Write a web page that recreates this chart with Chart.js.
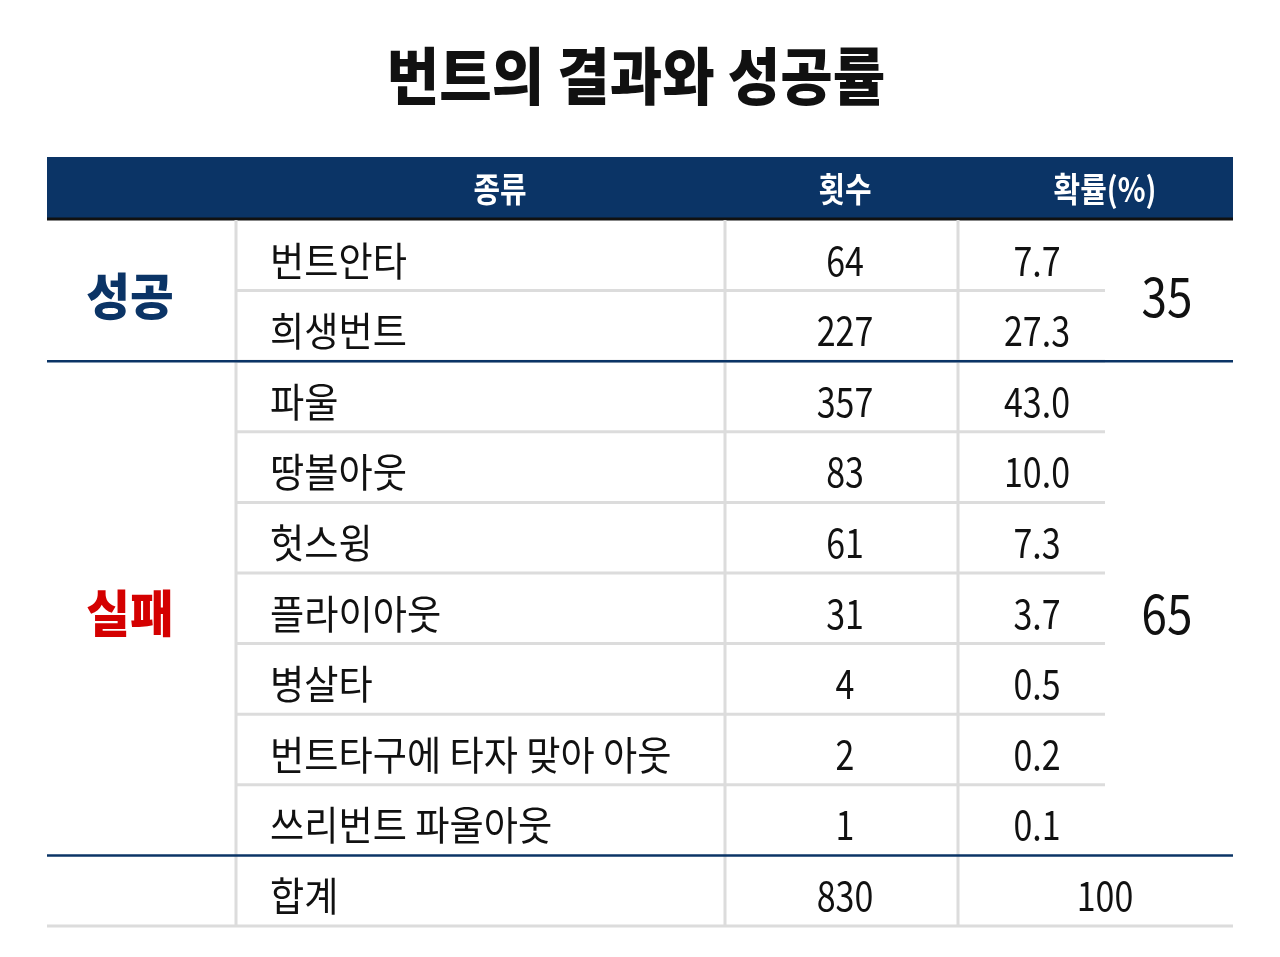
<!DOCTYPE html>
<html><head><meta charset="utf-8">
<script src="https://cdn.jsdelivr.net/npm/chart.js@4"></script>
<style>html,body{margin:0;background:#fff}#wrap{width:1280px;height:957px}</style>
</head><body><div id="wrap"><canvas id="myChart"></canvas></div>
<script>
// table data
const title = '번트의 결과와 성공률';
const headers = ['종류', '횟수', '확률(%)'];
const kinds = ['번트안타', '희생번트', '파울', '땅볼아웃', '헛스윙', '플라이아웃', '병살타', '번트타구에 타자 맞아 아웃', '쓰리번트 파울아웃'];
const counts = ['64', '227', '357', '83', '61', '31', '4', '2', '1'];
const rates = ['7.7', '27.3', '43.0', '10.0', '7.3', '3.7', '0.5', '0.2', '0.1'];
const groupNames = ['성공', '실패'];
const groupSizes = [2, 7];
const groupRates = ['35', '65'];
const totalRow = ['합계', '830', '100'];

const NAVY = '#0b3466', GRID = '#dcdcdc', FONT = '"Noto Sans CJK KR", sans-serif';

const tablePlugin = {
  id: 'table',
  afterDraw(chart) {
    const c = chart.ctx, X = v => chart.scales.x.getPixelForValue(v), Y = v => chart.scales.y.getPixelForValue(v);
    const txt = (s, x, y, size, color, weight, align, sx) => {
      sx = sx || 0.85;
      c.save(); c.font = `${weight||400} ${size}px ${FONT}`; c.fillStyle = color;
      c.textAlign = 'left'; c.textBaseline = 'middle';
      const w = c.measureText(s).width * sx;
      const x0 = align === 'left' ? x : x - w / 2;
      c.translate(x0, y + size * 0.1); c.scale(sx, 1); c.fillText(s, 0, 0); c.restore();
    };
    const line = (x1, y1, x2, y2, col, w) => { c.save(); c.strokeStyle = col; c.lineWidth = w; c.beginPath(); c.moveTo(X(x1), Y(y1)); c.lineTo(X(x2), Y(y2)); c.stroke(); c.restore(); };
    // title
    txt(title, X(636), Y(70), 62, '#111', 900, null, 0.92);
    // header
    c.fillStyle = NAVY; c.fillRect(X(47), Y(157), X(1233) - X(47), Y(218) - Y(157));
    line(47, 219, 1233, 219, '#111', 3);
    txt(headers[0], X(500), Y(186), 34, '#fff', 700);
    txt(headers[1], X(845), Y(186), 34, '#fff', 700);
    txt(headers[2], X(1105), Y(186), 34, '#fff', 700);
    const top = 220, rh = 70.6;
    const rowY = i => top + rh * i;
    // rows
    kinds.forEach((k, i) => {
      const cy = rowY(i) + rh / 2 + 1;
      txt(k, X(270), Y(cy), 40, '#111', 400, 'left', 0.93);
      txt(counts[i], X(845), Y(cy), 40, '#111');
      txt(rates[i], X(1037), Y(cy), 40, '#111');
      if (i > 0) line(236, rowY(i), 1105, rowY(i), GRID, 3);
    });
    const nr = kinds.length;
    // total
    const ty = rowY(nr) + rh / 2 + 1;
    txt(totalRow[0], X(270), Y(ty), 40, '#111', 400, 'left', 0.93);
    txt(totalRow[1], X(845), Y(ty), 40, '#111');
    txt(totalRow[2], X(1105), Y(ty), 40, '#111');
    line(47, rowY(nr + 1), 1233, rowY(nr + 1), GRID, 3);
    // vertical dividers
    [236, 725, 958].forEach(x => line(x, top, x, rowY(nr + 1), GRID, 3));
    // groups
    let start = 0;
    groupSizes.forEach((n, g) => {
      const mid = (rowY(start) + rowY(start + n)) / 2;
      txt(groupNames[g], X(130), Y(mid), 50, g === 0 ? NAVY : '#d40000', 900, null, 0.95);
      txt(groupRates[g], X(1167), Y(mid), 54, '#111');
      start += n;
      line(47, rowY(start), 1233, rowY(start), NAVY, 2.5);
    });
  }
};

new Chart(document.getElementById('myChart').getContext('2d'), {
  type: 'scatter',
  data: { datasets: [{ data: [] }] },
  options: {
    responsive: true, maintainAspectRatio: false, animation: false,
    layout: { padding: 0 },
    plugins: { legend: { display: false }, tooltip: { enabled: false } },
    scales: {
      x: { type: 'linear', min: 0, max: 1280, display: false },
      y: { type: 'linear', min: 0, max: 957, reverse: true, display: false }
    }
  },
  plugins: [tablePlugin]
});
</script></body></html>
